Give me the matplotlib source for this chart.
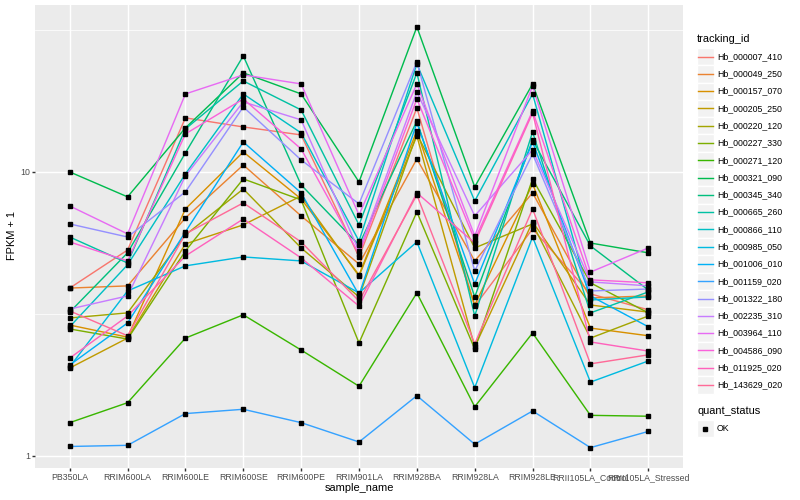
import numpy as np
import matplotlib
matplotlib.use("Agg")
import matplotlib.pyplot as plt
from matplotlib.patches import Rectangle
from matplotlib.ticker import FixedLocator, NullFormatter

# --- data: FPKM + 1 per sample, one list per gene ---
samples = ["PB350LA", "RRIM600LA", "RRIM600LE", "RRIM600SE", "RRIM600PE", "RRIM901LA",
           "RRIM928BA", "RRIM928LA", "RRIM928LE", "RRII105LA_Control", "RRII105LA_Stressed"]

hb_000007_410 = [3.90, 5.31, 15.5, 14.4, 13.5, 5.02, 16.8, 3.37, 6.30, 3.72, 3.27]
hb_000049_250 = [3.90, 3.97, 6.89, 10.58, 7.00, 4.74, 11.11, 4.86, 8.44, 3.60, 3.66]
hb_000157_070 = [2.89, 2.62, 7.41, 11.76, 8.03, 4.34, 13.94, 3.40, 9.07, 2.82, 2.65]
hb_000205_250 = [2.04, 2.60, 5.58, 6.51, 8.23, 4.30, 13.39, 2.42, 6.67, 3.40, 3.21]
hb_000220_120 = [3.06, 3.19, 6.00, 8.71, 5.40, 3.63, 13.61, 5.40, 6.56, 2.60, 3.11]
hb_000227_330 = [2.80, 2.58, 5.27, 9.45, 7.97, 2.50, 7.23, 2.38, 9.45, 4.07, 3.19]
hb_000271_120 = [1.31, 1.54, 2.60, 3.14, 2.36, 1.76, 3.75, 1.49, 2.71, 1.39, 1.38]
hb_000321_090 = [10.0, 8.17, 14.29, 22.32, 18.82, 9.22, 32.40, 8.86, 20.41, 5.62, 5.19]
hb_000345_340 = [3.21, 5.19, 11.67, 25.62, 9.00, 5.53, 15.12, 3.63, 12.96, 5.49, 3.84]
hb_000665_260 = [5.90, 4.78, 14.17, 20.91, 16.53, 6.51, 22.32, 3.11, 13.83, 3.19, 3.78]
hb_000866_110 = [2.85, 4.71, 9.84, 18.82, 13.72, 5.71, 24.01, 7.90, 18.82, 3.54, 3.63]
hb_000985_050 = [2.06, 3.81, 4.67, 5.02, 4.86, 3.75, 5.67, 1.74, 5.90, 1.82, 2.16]
hb_001006_010 = [2.09, 2.94, 6.15, 12.75, 8.44, 3.69, 14.88, 4.03, 12.75, 3.66, 2.85]
hb_001159_020 = [1.08, 1.09, 1.41, 1.46, 1.31, 1.12, 1.63, 1.10, 1.44, 1.07, 1.22]
hb_001322_180 = [6.56, 5.90, 8.51, 16.93, 11.02, 7.72, 24.40, 4.48, 11.57, 3.81, 3.87]
hb_002235_310 = [3.29, 3.66, 9.68, 17.64, 15.25, 5.27, 19.13, 7.00, 11.96, 4.10, 3.97]
hb_003964_110 = [7.59, 6.05, 18.82, 21.96, 20.41, 7.06, 20.41, 5.95, 20.08, 4.44, 5.40]
hb_004586_090 = [5.67, 4.86, 13.61, 18.07, 12.05, 5.14, 18.07, 5.76, 16.40, 4.17, 4.07]
hb_011925_020 = [2.21, 3.11, 5.06, 6.83, 4.98, 3.37, 8.44, 5.62, 16.13, 2.52, 2.34]
hb_143629_020 = [3.24, 2.65, 6.05, 7.78, 5.67, 3.51, 8.30, 2.48, 7.41, 2.11, 2.27]

tracking_ids = ["Hb_000007_410", "Hb_000049_250", "Hb_000157_070", "Hb_000205_250",
                "Hb_000220_120", "Hb_000227_330", "Hb_000271_120", "Hb_000321_090",
                "Hb_000345_340", "Hb_000665_260", "Hb_000866_110", "Hb_000985_050",
                "Hb_001006_010", "Hb_001159_020", "Hb_001322_180", "Hb_002235_310",
                "Hb_003964_110", "Hb_004586_090", "Hb_011925_020", "Hb_143629_020"]
series = [hb_000007_410, hb_000049_250, hb_000157_070, hb_000205_250, hb_000220_120,
          hb_000227_330, hb_000271_120, hb_000321_090, hb_000345_340, hb_000665_260,
          hb_000866_110, hb_000985_050, hb_001006_010, hb_001159_020, hb_001322_180,
          hb_002235_310, hb_003964_110, hb_004586_090, hb_011925_020, hb_143629_020]

# ggplot hue palette, 20 levels
colors = ["#F8766D", "#EA8331", "#D89000", "#C09B00", "#A3A500", "#7CAE00", "#39B600",
          "#00BB4E", "#00BF7D", "#00C1A3", "#00BFC4", "#00BAE0", "#00B0F6", "#35A2FF",
          "#9590FF", "#C77CFF", "#E76BF3", "#FA62DB", "#FF62BC", "#FF6A98"]

plt.rcParams['font.family'] = ['Liberation Sans', 'DejaVu Sans']
PX = 72 / 100  # ggplot rendered at 72 dpi, we save at 100

fig = plt.figure(figsize=(8, 5), dpi=100)
ax = fig.add_axes([35 / 800, 32 / 500, 648 / 800, 463 / 500])
ax.set_facecolor("#EBEBEB")
for s in ax.spines.values():
    s.set_visible(False)

x = np.arange(len(samples))
for vals, c in zip(series, colors):
    ax.plot(x, vals, color=c, lw=1.42 * PX, zorder=2)
for vals in series:
    ax.plot(x, vals, ls="none", marker="s", ms=2.6, color="black", zorder=3)

ax.set_yscale("log")
ax.set_ylim(0.907, 38.7)
ax.set_xlim(-0.6, 10.6)
ax.set_xticks(x)
ax.set_xticklabels(samples)
ax.set_yticks([1, 10])
ax.set_yticklabels(["1", "10"])
ax.yaxis.set_minor_locator(FixedLocator([10 ** 0.5, 10 ** 1.5]))
ax.yaxis.set_minor_formatter(NullFormatter())
ax.tick_params(which="major", length=2.75 * PX, width=1.42 * PX, color="#333333",
               labelcolor="#4D4D4D", labelsize=8.8 * PX, pad=2.2 * PX)
ax.tick_params(which="minor", length=0)
ax.set_axisbelow(True)
ax.grid(which="major", color="white", lw=1.42 * PX)
ax.grid(which="minor", axis="y", color="white", lw=0.71 * PX)

fig.text(359 / 800, 1 - 488 / 500, "sample_name", ha="center", va="center", size=11 * PX)
fig.text(12 / 800, 1 - 236 / 500, "FPKM + 1", ha="center", va="center", rotation=90,
         size=11 * PX)

# --- legends, drawn in pixel coords ---
lax = fig.add_axes([0, 0, 1, 1])
lax.set_xlim(0, 800)
lax.set_ylim(500, 0)
lax.axis("off")
key = 17.28
lax.text(697, 39, "tracking_id", ha="left", va="center", size=11 * PX)
for i, (tid, c) in enumerate(zip(tracking_ids, colors)):
    top = 48.0 + key * i
    lax.add_patch(Rectangle((696.5, top), key, key, fc="#F2F2F2", ec="white", lw=1.0))
    lax.plot([698, 712.5], [top + key / 2] * 2, color=c, lw=1.42 * PX)
    lax.text(717, top + key / 2, tid, ha="left", va="center", size=8.8 * PX)

lax.text(697, 411.5, "quant_status", ha="left", va="center", size=11 * PX)
top = 420.0
lax.add_patch(Rectangle((696.5, top), key, key, fc="#F2F2F2", ec="white", lw=1.0))
lax.plot([705], [top + key / 2], marker="s", ms=2.6, color="black")
lax.text(717, top + key / 2, "OK", ha="left", va="center", size=8.8 * PX)

fig.savefig("out.png", dpi=100)
